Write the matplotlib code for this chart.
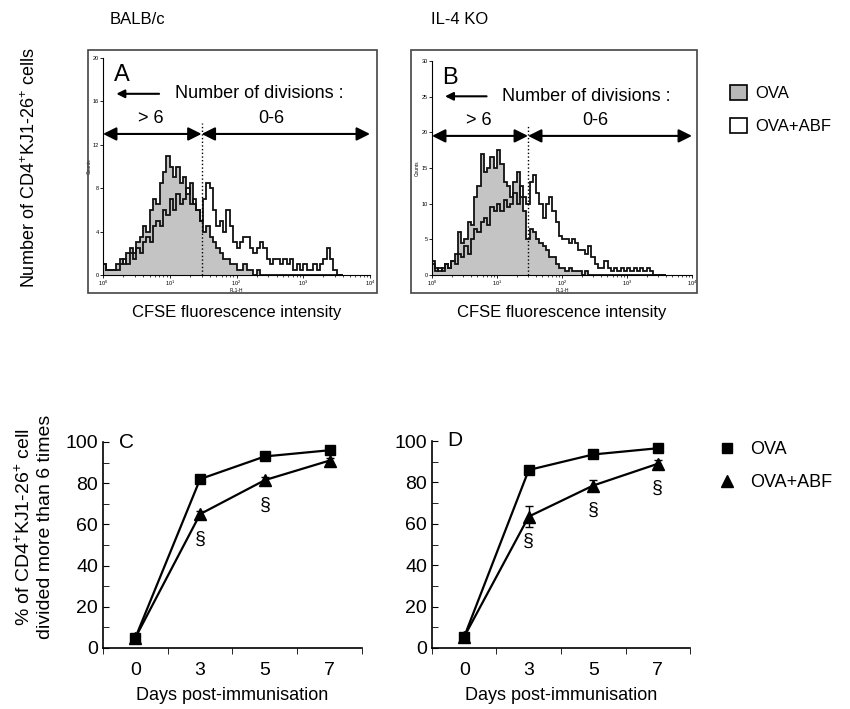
import numpy as np
import matplotlib
matplotlib.use('Agg')
import matplotlib.pyplot as plt
from matplotlib.patches import Rectangle, Patch
from matplotlib.lines import Line2D

plt.rcParams['font.family'] = ['Liberation Sans', 'DejaVu Sans']
plt.rcParams['mathtext.fontset'] = 'custom'
plt.rcParams['mathtext.rm'] = 'Liberation Sans'
plt.rcParams['mathtext.it'] = 'Liberation Sans:italic'

# histogram channels: 0.05 decade bins from 10^0 to 10^3.6
log_start = 0.0
log_step = 0.05

ova_A = [1, 0.5, 0.5, 0.5, 1, 1.5, 1, 2, 2.5, 2,
         3, 3.5, 4.5, 4, 6, 7, 6.5, 8.5, 9.5, 11,
         10, 9, 10, 8.5, 9, 7.5, 8.5, 6.5, 6, 5,
         4, 4.5, 3.5, 3, 2.5, 2, 1.5, 1.5, 1, 1,
         0.5, 0.5, 1, 0.5, 0.5, 0, 0.5, 0, 0, 0,
         0, 0, 0, 0, 0, 0, 0, 0, 0, 0,
         0, 0, 0, 0, 0, 0, 0, 0, 0, 0, 0, 0]
abf_A = [1, 0.5, 0.5, 0.5, 0.5, 1, 1.5, 1, 2, 1.5,
         2.5, 2, 3, 3.5, 3, 4.5, 5, 4.5, 6, 5.5,
         7, 6, 7.5, 6.5, 7, 8, 6.5, 7, 6, 5,
         7, 8.5, 8, 6, 4.5, 5, 4, 6, 4.5, 3,
         2.5, 3, 3.5, 3.5, 2.5, 2, 2.5, 3, 2.5, 1.5,
         1, 1.5, 1.5, 1, 1.5, 1, 1.5, 0.5, 1, 0.5,
         1, 0.5, 0.5, 1, 0.5, 1, 1.5, 2.5, 1.5, 0.5, 0, 0]

ova_B = [2, 1, 0.5, 1, 1.5, 1, 2, 3, 6, 4.5,
         5, 7.5, 7, 11, 12.5, 17, 14.5, 15, 16.5, 15,
         17.5, 15.5, 13, 12.5, 11, 13, 14.5, 11, 9, 5,
         6.5, 6, 5, 4.5, 4, 3.5, 2.5, 2.5, 1.5, 1,
         1, 0.5, 1, 0.5, 0.5, 0.5, 0, 0.5, 0, 0,
         0, 0, 0, 0, 0, 0, 0, 0, 0, 0,
         0, 0, 0, 0, 0, 0, 0, 0, 0, 0, 0, 0]
abf_B = [1.5, 0.5, 1, 0.5, 1.5, 1, 2, 1.5, 3, 2.5,
         4, 3, 5, 6.5, 6, 7.5, 8, 7, 9.5, 9,
         10, 9, 10.5, 9.5, 10, 11.5, 10, 12.5, 11, 10,
         13, 14, 11.5, 10, 8, 10, 11, 9, 7.5, 5.5,
         5, 5, 4.5, 5, 4.5, 3.5, 3.5, 3, 4, 2.5,
         1.5, 1, 1, 2, 1, 0.5, 1, 0.5, 1, 0.5,
         1, 0.5, 1, 0.5, 1, 0.5, 1, 0.5, 0, 0, 0, 0]

gate = 30

# kinetics (C: BALB/c, D: IL-4 KO)
days = ['0', '3', '5', '7']
ova_C = [5, 82, 93, 96]
ova_C_err = [0.5, 1, 1, 1]
abf_C = [5, 65, 81.5, 91]
abf_C_err = [0.5, 1.5, 1.5, 1]
sig_C = [False, True, True, False]

ova_D = [5.5, 86, 93.5, 96.5]
ova_D_err = [0.5, 1, 1, 1]
abf_D = [5.5, 63.5, 78.5, 89]
abf_D_err = [0.5, 5, 2.5, 2]
sig_D = [False, True, True, True]

W, H = 850, 709
fig = plt.figure(figsize=(W / 100, H / 100), dpi=100)


def box(x0, y0, x1, y1):
    # pixel box (top-left origin) -> figure fraction rect
    return [x0 / W, 1 - y1 / H, (x1 - x0) / W, (y1 - y0) / H]


def hist_panel(rect, frame, ova, abf, ymax, ystep, letter):
    fr = box(*frame)
    fig.patches.append(Rectangle((fr[0], fr[1]), fr[2], fr[3], transform=fig.transFigure,
                                 fill=False, edgecolor='#444444', lw=1.2))
    ax = fig.add_axes(box(*rect))
    edges = 10 ** (log_start + log_step * np.arange(len(ova) + 1))
    ax.stairs(ova, edges, fill=True, color='#c4c4c4')
    ax.stairs(ova, edges, color='#111111', lw=1.3)
    ax.stairs(abf, edges, color='#111111', lw=1.3)
    ax.set_xscale('log')
    ax.set_xlim(1, 1e4)
    ax.set_ylim(0, ymax)
    ax.set_yticks(np.arange(0, ymax + 1, ystep))
    ax.set_xticks([1, 10, 100, 1000, 10000])
    ax.set_xticklabels(['$10^0$', '$10^1$', '$10^2$', '$10^3$', '$10^4$'])
    ax.tick_params(labelsize=4, length=2, width=0.6, pad=1)
    ax.tick_params(which='minor', length=1.2, width=0.5)
    ax.set_xlabel('FL1-H', fontsize=3.5, labelpad=0)
    ax.set_ylabel('Counts', fontsize=3.5, labelpad=1)
    for s in ['top', 'right']:
        ax.spines[s].set_visible(False)
    ax.spines['left'].set_linewidth(0.8)
    ax.spines['bottom'].set_linewidth(0.8)
    ax.axvline(gate, ymin=0, ymax=0.7, color='black', ls=':', lw=1)

    ya = 0.65
    ax.annotate('', xy=(0, ya), xycoords='axes fraction',
                xytext=(np.log10(gate) / 4, ya), textcoords='axes fraction',
                arrowprops=dict(arrowstyle='<|-|>', color='black', lw=1.5, mutation_scale=20,
                                shrinkA=0, shrinkB=0))
    ax.annotate('', xy=(np.log10(gate) / 4, ya), xycoords='axes fraction',
                xytext=(1.0, ya), textcoords='axes fraction',
                arrowprops=dict(arrowstyle='<|-|>', color='black', lw=1.5, mutation_scale=20,
                                shrinkA=0, shrinkB=0))
    ax.annotate('', xy=(0.05, 0.835), xycoords='axes fraction',
                xytext=(0.21, 0.835), textcoords='axes fraction',
                arrowprops=dict(arrowstyle='-|>', color='black', lw=1.5, mutation_scale=12,
                                shrinkA=0, shrinkB=0))
    ax.text(0.27, 0.835, 'Number of divisions :', transform=ax.transAxes,
            fontsize=13, va='center', ha='left')
    ax.text(0.18, 0.72, '> 6', transform=ax.transAxes, fontsize=13, va='center', ha='center')
    ax.text(0.63, 0.72, '0-6', transform=ax.transAxes, fontsize=13, va='center', ha='center')
    ax.text(0.07, 0.92, letter, transform=ax.transAxes, fontsize=17, va='center', ha='center')
    ax.text(0.5, -0.175, 'CFSE fluorescence intensity', transform=ax.transAxes,
            fontsize=12, ha='center', va='center')
    return ax


axA = hist_panel((103, 58, 370, 275), (88, 50, 377, 293), ova_A, abf_A, 20, 4, 'A')
axB = hist_panel((432, 61, 692, 275), (411, 50, 697, 293), ova_B, abf_B, 30, 5, 'B')

fig.text(137 / W, 1 - 20 / H, 'BALB/c', fontsize=12, ha='center', va='center')
fig.text(460 / W, 1 - 20 / H, 'IL-4 KO', fontsize=12, ha='center', va='center')
fig.text(30 / W, 1 - 168 / H, 'Number of CD4$^{+}$KJ1-26$^{+}$ cells', fontsize=13,
         rotation=90, ha='center', va='center')

fig.legend([Patch(facecolor='#b8b8b8', edgecolor='black', lw=1.2),
            Patch(facecolor='white', edgecolor='black', lw=1.2)],
           ['OVA', 'OVA+ABF'], loc='upper left', bbox_to_anchor=(715 / W, 1 - 70 / H),
           frameon=False, fontsize=12, handlelength=1.0, handleheight=1.0,
           handletextpad=0.5, labelspacing=1.0)


def kin_panel(rect, ova, ova_err, abf, abf_err, sig, letter):
    ax = fig.add_axes(box(*rect))
    x = np.arange(len(days))
    ax.errorbar(x, ova, yerr=ova_err, color='black', marker='s', ms=7, lw=1.6,
                capsize=3, elinewidth=1)
    ax.errorbar(x, abf, yerr=abf_err, color='black', marker='^', ms=8, lw=1.6,
                capsize=3, elinewidth=1)
    for xi, v, s in zip(x, abf, sig):
        if s:
            ax.text(xi, v - 12, '§', fontsize=14, ha='center', va='center')
    ax.set_xlim(-0.5, len(days) - 0.5)
    ax.set_ylim(0, 100)
    ax.set_xticks(x)
    ax.set_xticklabels(days)
    ax.set_xticks(np.arange(-0.5, len(days), 1), minor=True)
    ax.set_yticks(range(0, 101, 20))
    ax.set_yticks(range(0, 101, 10), minor=True)
    ax.tick_params(axis='x', which='major', length=0, labelsize=14, pad=10)
    ax.tick_params(axis='x', which='minor', length=4, direction='out')
    ax.tick_params(axis='y', which='both', length=4, direction='in', labelsize=14)
    for s in ['top', 'right']:
        ax.spines[s].set_visible(False)
    ax.spines['left'].set_linewidth(1.2)
    ax.spines['bottom'].set_linewidth(1.2)
    ax.set_xlabel('Days post-immunisation', fontsize=13, labelpad=6)
    ax.text(0.09, 1.0, letter, transform=ax.transAxes, fontsize=15, ha='center', va='center')
    return ax


axC = kin_panel((103, 442, 362, 648), ova_C, ova_C_err, abf_C, abf_C_err, sig_C, 'C')
fig.text(34 / W, 1 - 527 / H, '% of CD4$^{+}$KJ1-26$^{+}$ cell\ndivided more than 6 times',
         fontsize=14, rotation=90, ha='center', va='center', linespacing=1.25)
axD = kin_panel((432, 441, 690, 648), ova_D, ova_D_err, abf_D, abf_D_err, sig_D, 'D')

fig.legend([Line2D([], [], color='black', marker='s', ms=7, ls='none'),
            Line2D([], [], color='black', marker='^', ms=8, ls='none')],
           ['OVA', 'OVA+ABF'], loc='upper left', bbox_to_anchor=(700 / W, 1 - 425 / H),
           frameon=False, fontsize=13, handlelength=1.2, handletextpad=0.7, labelspacing=0.9)

fig.savefig('out.png', dpi=100)
